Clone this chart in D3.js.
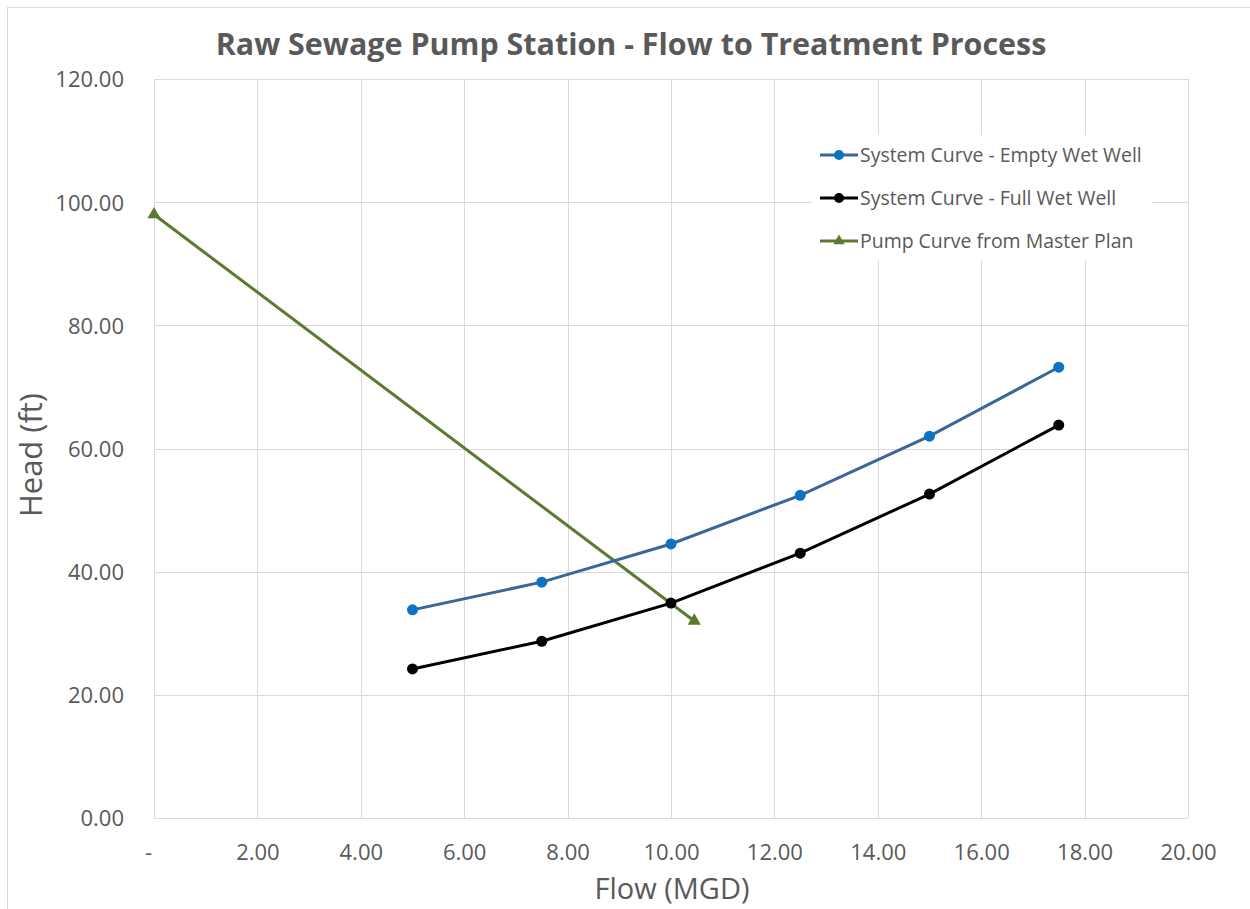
<!DOCTYPE html>
<html><head><meta charset="utf-8">
<script src="https://cdn.jsdelivr.net/npm/d3@7"></script>
<style>body{margin:0;background:#fff}svg{display:block}text{font-family:"Open Sans",sans-serif;fill:#595959}</style>
</head><body><svg id="c" width="1250" height="909"></svg>
<script>
const flowPoints = [5, 7.5, 10, 12.5, 15, 17.5];
const emptyWetWell = [33.8, 38.3, 44.5, 52.4, 62.0, 73.2];
const fullWetWell = [24.2, 28.7, 34.9, 43.0, 52.6, 63.8];
const pumpFlow = [0, 10.45];
const pumpHead = [98.0, 32.0];
const xTicks = [0, 2, 4, 6, 8, 10, 12, 14, 16, 18, 20];
const yTicks = [0, 20, 40, 60, 80, 100, 120];
const seriesNames = ["System Curve - Empty Wet Well", "System Curve - Full Wet Well", "Pump Curve from Master Plan"];

const svg = d3.select("#c");
const L = 154, R = 1188, T = 79, B = 818;
const x = d3.scaleLinear().domain([0, 20]).range([L, R]);
const y = d3.scaleLinear().domain([0, 120]).range([B, T]);

function fit(sel, target) {
  const w = sel.node().getComputedTextLength();
  const fs = parseFloat(sel.style("font-size"));
  sel.style("font-size", (fs * target / w).toFixed(2) + "px");
  return sel;
}

// outer frame
svg.append("rect").attr("x", 7.5).attr("y", 7.5).attr("width", 1300).attr("height", 1000)
  .attr("fill", "none").attr("stroke", "#d9d9d9").attr("stroke-width", 1);

// gridlines
svg.append("g").selectAll("line").data(xTicks).join("line")
  .attr("x1", d => Math.round(x(d)) + 0.5).attr("x2", d => Math.round(x(d)) + 0.5)
  .attr("y1", T).attr("y2", B).attr("stroke", "#d9d9d9").attr("stroke-width", 1);
svg.append("g").selectAll("line").data(yTicks).join("line")
  .attr("y1", d => Math.round(y(d)) + 0.5).attr("y2", d => Math.round(y(d)) + 0.5)
  .attr("x1", L).attr("x2", R).attr("stroke", "#d9d9d9").attr("stroke-width", 1);

// tick labels
const xAxis = d3.axisBottom(x).tickValues(xTicks).tickSize(0).tickPadding(0)
  .tickFormat(d => d === 0 ? "-" : d3.format(".2f")(d));
const gx = svg.append("g").attr("transform", `translate(0,${B})`).call(xAxis);
gx.select(".domain").remove();
gx.selectAll("text").attr("y", 42).attr("dy", 0).style("font-size", "22px").attr("fill", "#595959")
  .style("font-family", "'Open Sans',sans-serif");
gx.selectAll(".tick").filter(d => d === 0).select("text").attr("transform", "translate(-6,0)");

const yAxis = d3.axisLeft(y).tickValues(yTicks).tickSize(0).tickPadding(0)
  .tickFormat(d3.format(".2f"));
const gy = svg.append("g").attr("transform", `translate(124,0)`).call(yAxis);
gy.select(".domain").remove();
gy.selectAll("text").attr("dy", "0.36em").style("font-size", "22px").attr("fill", "#595959")
  .style("font-family", "'Open Sans',sans-serif");

// title & axis titles
fit(svg.append("text").attr("x", 631).attr("y", 55).attr("text-anchor", "middle")
  .style("font-size", "28px").style("font-weight", "bold").text("Raw Sewage Pump Station - Flow to Treatment Process"), 831);
fit(svg.append("text").attr("transform", "translate(42,455) rotate(-90)").attr("text-anchor", "middle")
  .style("font-size", "26px").text("Head (ft)"), 124);
fit(svg.append("text").attr("x", 672).attr("y", 899).attr("text-anchor", "middle")
  .style("font-size", "26px").text("Flow (MGD)"), 155);

const line = d3.line().x(d => x(d[0])).y(d => y(d[1]));
const empty = flowPoints.map((f, i) => [f, emptyWetWell[i]]);
const full = flowPoints.map((f, i) => [f, fullWetWell[i]]);
const pump = pumpFlow.map((f, i) => [f, pumpHead[i]]);

const tri = d3.symbol().type(d3.symbolTriangle).size(75);

svg.append("path").attr("d", line(pump)).attr("fill", "none").attr("stroke", "#5b7a2e").attr("stroke-width", 3);
svg.append("path").attr("d", line(empty)).attr("fill", "none").attr("stroke", "#3b6699").attr("stroke-width", 3);
svg.append("path").attr("d", line(full)).attr("fill", "none").attr("stroke", "#000").attr("stroke-width", 3);

svg.append("g").selectAll("circle").data(empty).join("circle")
  .attr("cx", d => x(d[0])).attr("cy", d => y(d[1])).attr("r", 5.5).attr("fill", "#0c72c4");
svg.append("g").selectAll("circle").data(full).join("circle")
  .attr("cx", d => x(d[0])).attr("cy", d => y(d[1])).attr("r", 5.5).attr("fill", "#000");
svg.append("g").selectAll("path").data(pump).join("path")
  .attr("d", tri).attr("transform", d => `translate(${x(d[0])},${y(d[1])})`).attr("fill", "#5b7a2e");

// legend
const lg = svg.append("g");
lg.append("rect").attr("x", 812).attr("y", 135).attr("width", 340).attr("height", 125).attr("fill", "#fff");
const lcol = ["#3b6699", "#000", "#5b7a2e"];
const mcol = ["#0c72c4", "#000", "#5b7a2e"];
seriesNames.forEach((n, i) => {
  const yy = 155 + i * 43;
  lg.append("line").attr("x1", 820).attr("x2", 858).attr("y1", yy).attr("y2", yy)
    .attr("stroke", lcol[i]).attr("stroke-width", 3);
  if (i < 2) lg.append("circle").attr("cx", 839).attr("cy", yy).attr("r", 5).attr("fill", mcol[i]);
  else lg.append("path").attr("d", d3.symbol().type(d3.symbolTriangle).size(55)).attr("transform", `translate(839,${yy})`).attr("fill", mcol[i]);
  const t = lg.append("text").attr("x", 860).attr("y", yy).attr("dy", "0.36em").style("font-size", "18px").text(n);
  if (i === 0) fit(t, 282);
});
const lfs = lg.select("text").style("font-size");
lg.selectAll("text").style("font-size", lfs);
</script></body></html>
